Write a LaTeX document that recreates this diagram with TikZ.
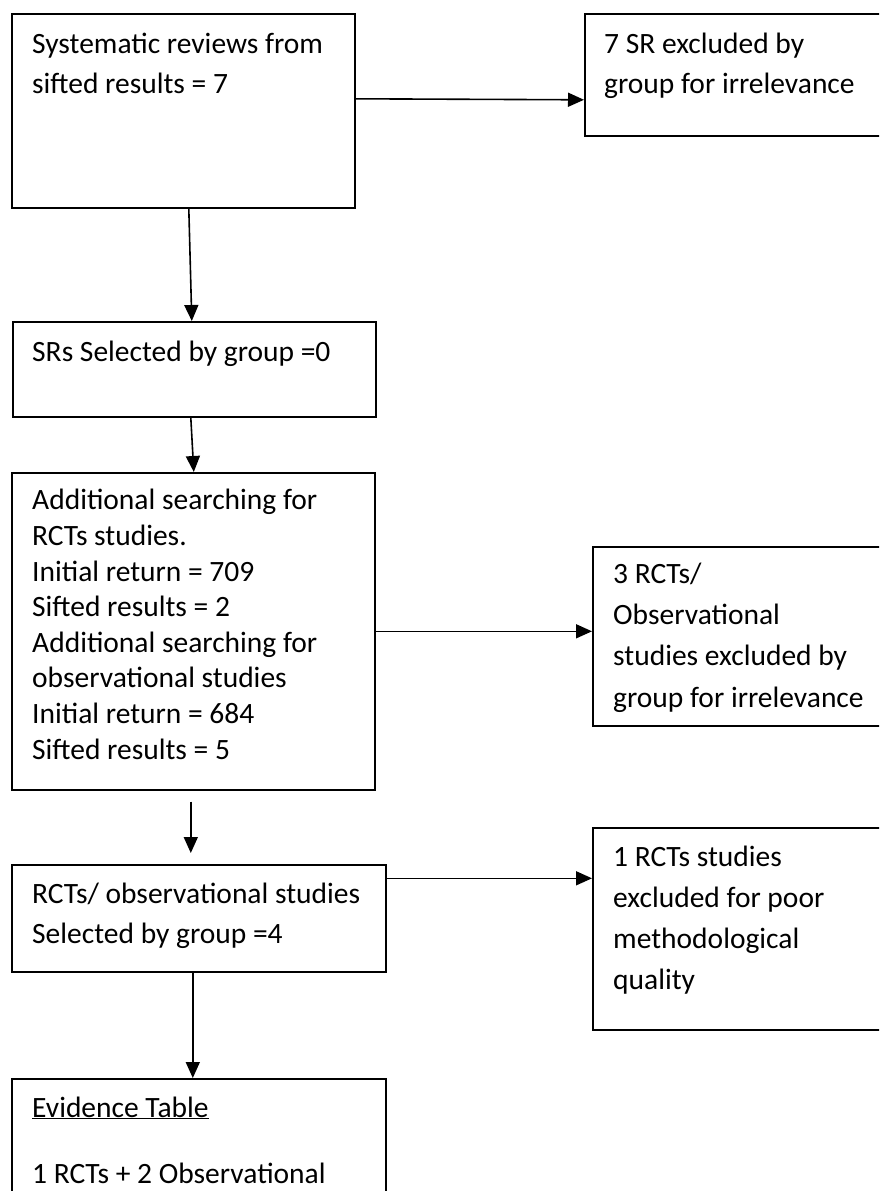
\documentclass[tikz,border=0pt]{standalone}
\usepackage{fontspec}
\setmainfont{Carlito}
\usetikzlibrary{calc, arrows.meta}

\begin{document}
\begin{tikzpicture}[x=1pt, y=-1pt,
    box/.style={draw, line width=1.6pt, anchor=north west, inner sep=0pt},
    txt/.style={anchor=base west, align=left, inner sep=0pt,
                font=\fontsize{29.5}{#1}\selectfont},
    txt/.default=40,
    arr/.style={-{Triangle[length=16pt, width=14pt]}, line width=1.6pt}]
  \useasboundingbox (0,0) rectangle (879,1191);
  \clip (0,0) rectangle (879,1191);

  % boxes
  \node[box, minimum width=343pt, minimum height=194pt] (sr) at (11,13) {};
  \node[box, minimum width=305pt, minimum height=122pt] (srout) at (584,13) {};
  \node[box, minimum width=363pt, minimum height=95pt] (sel) at (12,321) {};
  \node[box, minimum width=363pt, minimum height=317pt] (add) at (11,472) {};
  \node[box, minimum width=297pt, minimum height=179pt] (addout) at (592,546) {};
  \node[box, minimum width=374pt, minimum height=107pt] (rcts) at (11,864) {};
  \node[box, minimum width=297pt, minimum height=202pt] (rctsout) at (592,827) {};
  \node[box, minimum width=374pt, minimum height=150pt] (evid) at (11,1078) {};

  % texts (placed at the baseline of their last line)
  \node[txt] (srtext) at (32,93) {Systematic reviews from\\sifted results = 7};
  \node[txt] (srouttext) at (604,93) {7 SR excluded by\\group for irrelevance};
  \node[txt] (seltext) at (32,361) {SRs Selected by group =0};
  \node[txt=35.6] (addtext) at (32,759) {Additional searching for\\RCTs studies.\\
    Initial return = 709\\Sifted results = 2\\Additional searching for\\
    observational studies\\Initial return = 684\\Sifted results = 5};
  \node[txt=41.3] (addouttext) at (613,707) {3 RCTs/\\Observational\\
    studies excluded by\\group for irrelevance};
  \node[txt] (rctstext) at (32,943) {RCTs/ observational studies\\Selected by group =4};
  \node[txt=41] (rctsouttext) at (613,989) {1 RCTs studies\\excluded for poor\\
    methodological\\quality};
  \node[txt=66] (evidtext) at (32,1183) {\underline{Evidence Table}\\1 RCTs + 2 Observational};

  % arrows
  \draw[arr] ([yshift=12pt]sr.east) -- ([yshift=-25pt]srout.west);
  \draw[arr] ([xshift=5.5pt]sr.south) -- ([xshift=-2.5pt]sel.north);
  \draw[arr] ([xshift=-3.5pt]sel.south) -- ([xshift=0.5pt]add.north);
  \draw[arr] (add.east) -- (add.east -| addout.west);
  \draw[arr] ([xshift=-2.5pt, yshift=-11pt]add.south) -- ([xshift=-8pt, yshift=11pt]rcts.north);
  \coordinate (rctsmid) at ([yshift=40pt]rcts.east);
  \draw[arr] (rctsmid) -- (rctsmid -| rctsout.west);
  \draw[arr] ([xshift=-6pt]rcts.south) -- ([xshift=-6pt]evid.north);
\end{tikzpicture}
\end{document}
